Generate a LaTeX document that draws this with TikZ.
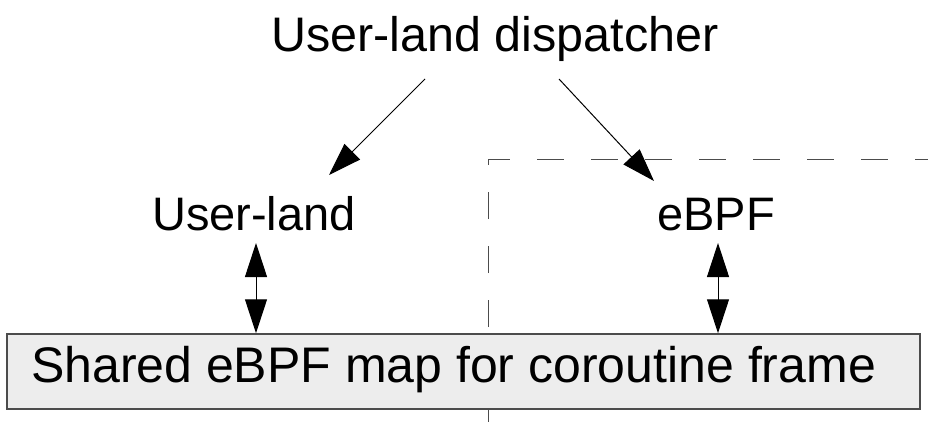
\documentclass[tikz,border=0pt]{standalone}
\usepackage{fontspec}
\setmainfont{Liberation Sans}
\usetikzlibrary{arrows.meta,calc}

\begin{document}
\begin{tikzpicture}[x=1pt,y=-1pt,
  label text/.style={font=\fontsize{47}{56}\selectfont, inner sep=0pt},
  title text/.style={font=\fontsize{48.5}{58}\selectfont, inner sep=0pt},
  flow/.style={line width=1pt, -{Triangle[length=33pt,width=22pt]}},
  both ways/.style={line width=1pt, {Triangle[length=34pt,width=22pt]}-{Triangle[length=34pt,width=22pt]}},
  boundary/.style={line width=1pt, draw=black!70, dash pattern=on 27pt off 27pt, dash phase=13pt},
  mapbox/.style={draw=black!70, line width=1.5pt, fill=black!7,
    minimum width=913pt, minimum height=75pt, inner sep=0pt},
  map text/.style={font=\fontsize{50}{60}\selectfont, inner sep=0pt}]
  \useasboundingbox (0,0) rectangle (928,422);

  % kernel-side boundary (drawn first so the map box covers it)
  \draw[boundary] (488,422) -- (488,160) -- (928,160);

  \node[mapbox] (map) at (463.5,371.5) {};
  \node[map text] (maptext) at ($(map.center)+(-10,-2)$) {Shared eBPF map for coroutine frame};

  \node[title text, anchor=base] (disp) at (495,52) {User-land dispatcher};
  \node[label text, anchor=base] (ul) at (254,230) {User-land};
  \node[label text, anchor=base] (ebpf) at (716,230) {eBPF};

  % dispatch arrows
  \draw[flow] ($(disp.base)+(-70,27)$) -- ($(ul.base)+(75,-55)$);
  \draw[flow] ($(disp.base)+(64,27)$) -- ($(ebpf.base)+(-62,-49)$);

  % access to the shared map
  \draw[both ways] ($(ul.base)+(2,13)$) -- ($(ul.base |- map.north)+(2,0)$);
  \draw[both ways] ($(ebpf.base)+(2,13)$) -- ($(ebpf.base |- map.north)+(2,0)$);
\end{tikzpicture}
\end{document}
